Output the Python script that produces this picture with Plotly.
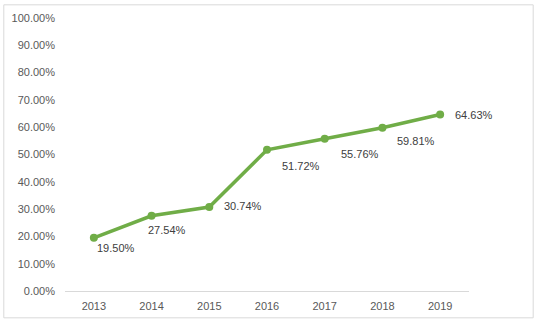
import plotly.graph_objects as go

# Yearly share values (fractions)
years = ["2013", "2014", "2015", "2016", "2017", "2018", "2019"]
shares = [0.1950, 0.2754, 0.3074, 0.5172, 0.5576, 0.5981, 0.6463]

# Label placement offsets in pixels (left edge / vertical centre relative to the point)
label_dx = [1, -6, 13, 13, 14, 13, 13]
label_dy = [10, 14, -1, 16, 15, 13, 0]

W, H = 537, 324
L, R, T, B = 63, 68, 14, 30
pw, ph = W - L - R, H - T - B

fig = go.Figure()
fig.add_trace(go.Scatter(
    x=years, y=shares, mode="lines+markers",
    line=dict(color="#70AD47", width=3.5),
    marker=dict(color="#70AD47", size=8),
    hoverinfo="skip", showlegend=False,
))

# Data labels (category axis positions are given by index)
for i, (v, dx, dy) in enumerate(zip(shares, label_dx, label_dy)):
    fig.add_annotation(
        x=i, y=v, xref="x", yref="y",
        text=f"{v * 100:.2f}%", showarrow=False,
        xanchor="left", yanchor="middle",
        xshift=dx, yshift=-dy,
        font=dict(family="Liberation Sans, Arial, sans-serif", size=11, color="#404040"),
    )

# Thin frame around the chart
fig.add_shape(
    type="rect", xref="paper", yref="paper",
    x0=(-L + 1.5) / pw, x1=(533.5 - L) / pw,
    y0=(-B + 2.5) / ph, y1=(H - B - 0.5) / ph,
    line=dict(color="#D9D9D9", width=1), layer="below",
)

fig.update_layout(
    width=W, height=H,
    margin=dict(l=L, r=R, t=T, b=B),
    paper_bgcolor="white", plot_bgcolor="white",
    font=dict(family="Liberation Sans, Arial, sans-serif", size=11, color="#595959"),
    xaxis=dict(
        type="category", showgrid=False, zeroline=False,
        showline=True, linecolor="#D9D9D9", linewidth=1,
        ticks="", tickfont=dict(size=11, color="#595959"),
        ticklabelstandoff=5,
        range=[-0.5, 6.5],
    ),
    yaxis=dict(
        range=[0, 1], dtick=0.1, tickformat=".2%",
        showgrid=False, zeroline=False, showline=False,
        ticks="", tickfont=dict(size=11, color="#595959"),
        ticklabelstandoff=9,
    ),
)

fig.write_html("out.html")
